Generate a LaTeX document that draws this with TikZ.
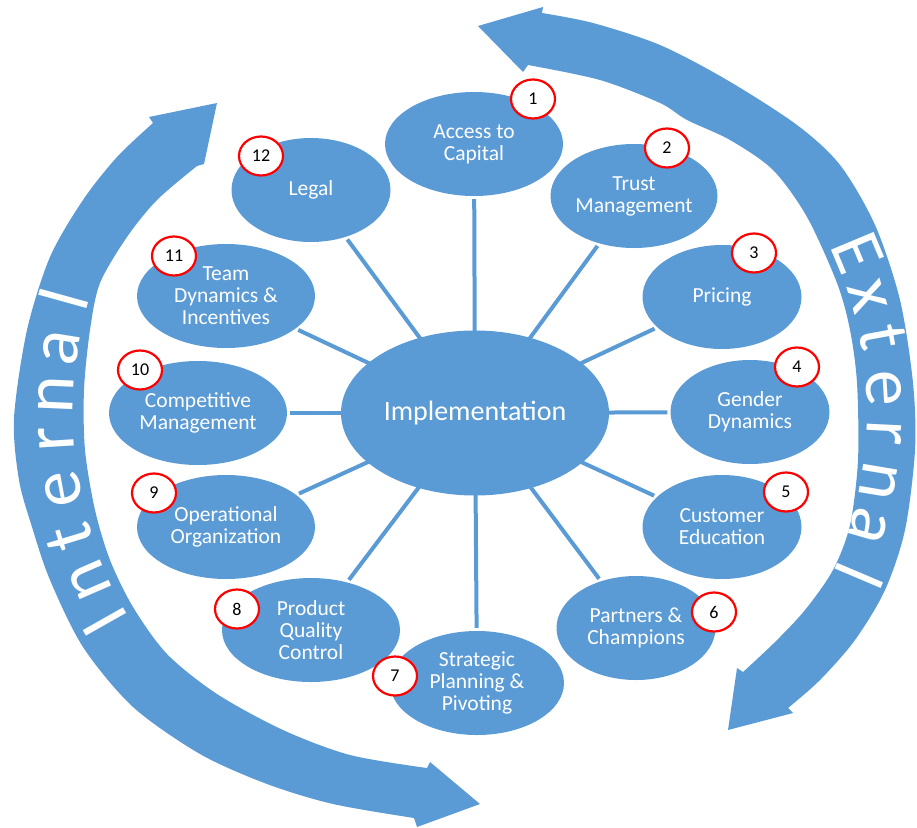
\documentclass[tikz,border=0pt]{standalone}
\usepackage{fontspec}
\setmainfont{Carlito}
\usetikzlibrary{shapes.geometric}
\definecolor{ppblue}{HTML}{5B9BD5}
\tikzset{topic/.style = {ellipse, fill = ppblue, text = white, inner sep = 0, align = center,
    minimum width = 159, minimum height = 104, font = \fontsize{21.5}{22}\selectfont}}
\tikzset{widetopic/.style = {topic, minimum width = 178}}
\tikzset{badge/.style = {ellipse, draw = red, line width = 2.2, fill = white, inner sep = 0,
    minimum width = 44, minimum height = 39, font = \fontsize{18}{20}\selectfont}}
\tikzset{spoke/.style = {ppblue, line width = 4, shorten <= -2, shorten >= 3}}
\tikzset{bandtext/.style = {text = white, anchor = base, inner sep = 0, font = \fontsize{72}{72}\selectfont}}

\begin{document}
\begin{tikzpicture}[x = 1pt, y = -1pt]
      \useasboundingbox (0, 0) rectangle (917, 827);
      % internal band
      \fill [ppblue] (217,103) -- (149,117) -- (153,123)
        -- plot [smooth] coordinates {(153,123) (117,157) (83,200) (50,257) (27,330) (14,418) (19,480) (32,527)
          (50,580) (83,647) (133,707) (200,754) (267,784) (333,804) (414,818)}
        -- (417,827) -- (480,804) -- (430,762) -- (427,768)
        -- plot [smooth] coordinates {(427,768) (350,755) (283,730) (217,694) (167,654) (133,607) (110,560)
          (95,510) (85,450) (84,390) (90,330) (100,283) (127,237) (157,200) (197,166)}
        -- (204,164) -- cycle;
      % external band
      \fill [ppblue] (478,26) -- (543,7) -- (542,13)
        -- plot [smooth] coordinates {(542,13) (593,23) (660,45) (727,80) (797,125) (840,165) (875,225)
          (900,300) (913,383) (915,450) (905,530) (885,590) (855,640) (820,680) (788,708)}
        -- (793,713) -- (728,730) -- (737,668) -- (743,672)
        -- plot [smooth] coordinates {(743,672) (775,642) (805,610) (833,570) (850,525) (858,460) (857,383)
          (850,330) (837,283) (807,217) (773,170) (730,140) (687,120) (660,103) (600,80) (528,65)}
        -- (523,72) -- cycle;

      \node [topic, minimum width = 268, minimum height = 165, font = \fontsize{28}{30}\selectfont]
        (impl) at (475, 413) {Implementation};
      \node [widetopic] (capital) at (474, 144) {Access to\\Capital};
      \node [topic, minimum width = 167] (trust) at (634, 196) {Trust\\Management};
      \node [topic] (pricing) at (722, 297) {Pricing};
      \node [topic] (gender) at (750, 412) {Gender\\Dynamics};
      \node [topic] (customer) at (722, 527) {Customer\\Education};
      \node [topic] (partners) at (636, 628) {Partners \&\\Champions};
      \node [topic, minimum width = 174] (strategic) at (477, 683) {Strategic\\Planning \&\\Pivoting};
      \node [widetopic] (product) at (311, 630) {Product\\Quality\\Control};
      \node [widetopic] (operational) at (226, 527) {Operational\\Organization};
      \node [widetopic] (competitive) at (198, 413) {Competitive\\Management};
      \node [widetopic] (team) at (226, 296) {Team\\Dynamics \&\\Incentives};
      \node [topic] (legal) at (311, 190) {Legal};

      \foreach \s in {capital, trust, pricing, gender, customer, partners,
                      strategic, product, operational, competitive, team, legal} {
        \draw [spoke] (impl) -- (\s);
      }

      \foreach \i/\x/\y in {1/533/99, 2/667/148, 3/754/253, 4/797/367, 5/786/492, 6/714/612,
                            7/395/676, 8/237/609, 9/154/493, 10/140/370, 11/174/256, 12/261/156} {
        \node [badge] (b\i) at (\x, \y) {\i};
      }

      \foreach \ch/\ang [count = \i] in {I/209.5, n/203.5, t/197, e/190.5, r/183.5, n/177.5, a/171, l/164.5} {
        \node [bandtext, rotate = \ang - 90] (int\i) at ({475 + 402*cos(\ang)}, {413 - 402*sin(\ang)}) {\ch};
      }
      \foreach \ch/\ang [count = \i] in {E/22.7, x/16.5, t/10.5, e/3.5, r/-2.8, n/-9.5, a/-16, l/-23} {
        \node [bandtext, rotate = \ang - 90] (ext\i) at ({475 + 392*cos(\ang)}, {413 - 392*sin(\ang)}) {\ch};
      }
    \end{tikzpicture}
\end{document}
